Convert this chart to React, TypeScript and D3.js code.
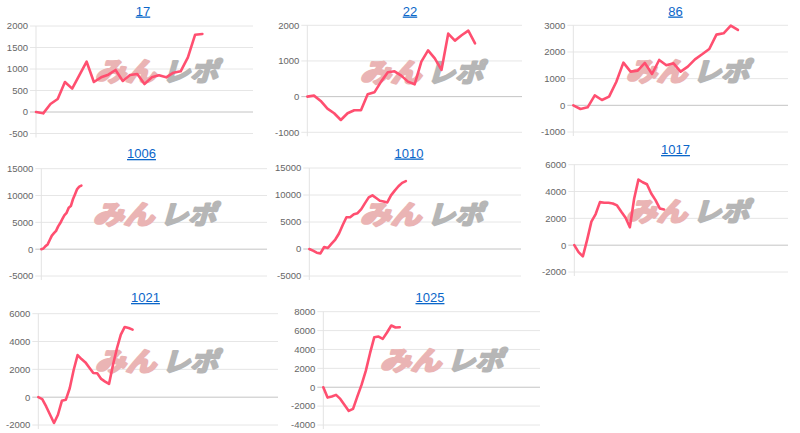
import React from 'react';
import * as d3 from 'd3';

const storeNames = ['17', '22', '86', '1006', '1010', '1017', '1021', '1025'];

const s17 = [0, -31, 186, 302, 698, 543, 860, 1170, 698, 806, 868, 977, 721, 860, 884, 651, 806, 853, 806, 915, 946, 1271, 1798, 1814];
const s22 = [0, 28, -121, -336, -467, -654, -467, -383, -383, 65, 121, 421, 682, 710, 589, 421, 346, 981, 1299, 1075, 748, 1766, 1570, 1720, 1850, 1495];
const s86 = [0, -138, -75, 375, 200, 325, 875, 1600, 1263, 1300, 1588, 1175, 1700, 1500, 1575, 1263, 1450, 1725, 1913, 2113, 2650, 2700, 2988, 2825];
const s1006 = [0, 127, 570, 886, 1709, 2532, 2975, 3418, 4241, 4873, 5633, 6329, 6772, 7722, 8038, 9304, 10253, 11203, 11646, 11835];
const s1010 = [0, -313, -688, -813, 375, 188, 1000, 1750, 2875, 4438, 5875, 5875, 6438, 6625, 7375, 8500, 9563, 9938, 9438, 8938, 8813, 8625, 9938, 10813, 11625, 12250, 12563];
const s1017 = [0, -519, -840, 395, 1753, 2321, 3210, 3160, 3160, 3111, 2963, 2494, 2049, 1333, 3457, 4889, 4691, 4543, 3852, 3358, 2741, 2667];
const s1021 = [0, -143, -667, -1262, -1857, -1262, -262, -190, 643, 1952, 3024, 2738, 2500, 2119, 1738, 1714, 1310, 1119, 952, 2310, 3500, 4500, 5048, 4976, 4857];
const s1025 = [0, -1095, -989, -813, -1237, -1873, -2509, -2297, -989, 247, 1731, 3604, 5300, 5371, 5124, 5795, 6537, 6325, 6360];

const seriesList = [s17, s22, s86, s1006, s1010, s1017, s1021, s1025];
const categoryCounts = [31, 33, 31, 108, 58, 51, 62, 52];
const yMins = [-500, -1000, -1000, -5000, -5000, -2000, -2000, -4000];
const yMaxs = [2000, 2000, 3000, 15000, 15000, 6000, 6000, 8000];
const ySteps = [500, 1000, 1000, 5000, 5000, 2000, 2000, 2000];

// layout (pixel frames) per panel
const frames = [
  { left: 36, right: 253, top: 26, bottom: 133.5, tx: 143, ty: 15.5, wx: 92, wy: 60 },
  { left: 307.3, right: 522, top: 25.3, bottom: 132.3, tx: 410, ty: 15.5, wx: 357, wy: 61 },
  { left: 573.3, right: 788, top: 25.3, bottom: 132, tx: 675.5, ty: 15.5, wx: 623, wy: 60 },
  { left: 41.3, right: 267, top: 168.7, bottom: 276, tx: 141.5, ty: 158, wx: 90, wy: 203 },
  { left: 309.3, right: 521, top: 168, bottom: 276, tx: 409, ty: 157.5, wx: 357, wy: 203 },
  { left: 574.3, right: 788, top: 164.7, bottom: 272, tx: 675.5, ty: 154, wx: 623, wy: 200 },
  { left: 38.3, right: 278, top: 313.7, bottom: 425, tx: 145.5, ty: 302, wx: 92, wy: 350 },
  { left: 323.3, right: 540, top: 311.7, bottom: 425, tx: 430, ty: 302, wx: 377, wy: 349 },
];

const LINE = '#ff4f70';

function Panel({ i }: { i: number }) {
  const f = frames[i];
  const data = seriesList[i];
  const x = d3.scaleLinear().domain([0, categoryCounts[i] - 1]).range([f.left, f.right]);
  const y = d3.scaleLinear().domain([yMins[i], yMaxs[i]]).range([f.bottom, f.top]);
  const ticks = d3.range(yMins[i], yMaxs[i] + ySteps[i] / 2, ySteps[i]);
  const line = d3.line<number>().x((_, k) => x(k)).y((v) => y(v)).curve(d3.curveLinear);
  return (
    <g>
      <text x={f.tx} y={f.ty} textAnchor="middle" fontSize={13} fill="#0b66c9"
        fontFamily="'Liberation Sans', Arial, sans-serif" textDecoration="underline">{storeNames[i]}</text>
      {ticks.map((t) => (
        <g key={t}>
          <line x1={f.left - 6} x2={f.right} y1={y(t)} y2={y(t)}
            stroke={t === 0 ? '#c4c4c4' : '#e6e6e6'} strokeWidth={1} />
          <text x={f.left - 8} y={y(t)} dy="0.35em" textAnchor="end" fontSize={9.5} fill="#666"
            fontFamily="'Liberation Sans', Arial, sans-serif">{t}</text>
        </g>
      ))}
      <line x1={f.left} x2={f.left} y1={f.top} y2={f.bottom + 4} stroke="#e3e3e3" strokeWidth={1} />
      <g transform={`translate(${f.wx},${f.wy + 21}) skewX(-16)`} fontFamily="'Noto Sans CJK JP', sans-serif" fontWeight={700}>
        <text x={3} y={0} fontSize={26} fill="#eab4b4" stroke="#eab4b4" strokeWidth={2.6} strokeLinejoin="round"
          textLength={61} lengthAdjust="spacingAndGlyphs">みん</text>
        <text x={70} y={0} fontSize={26} fill="#b6b6b6" stroke="#b6b6b6" strokeWidth={2.2} strokeLinejoin="round"
          textLength={56} lengthAdjust="spacingAndGlyphs">レポ</text>
      </g>
      <path d={line(data) || ''} fill="none" stroke={LINE} strokeWidth={2.6} strokeLinejoin="round" strokeLinecap="round" />
    </g>
  );
}

export default function App() {
  return (
    <svg width={800} height={433} style={{ position: 'absolute', left: 0, top: 0, background: '#fff' }}>
      <rect width={800} height={433} fill="#fff" />
      {storeNames.map((_, i) => <Panel key={i} i={i} />)}
    </svg>
  );
}
